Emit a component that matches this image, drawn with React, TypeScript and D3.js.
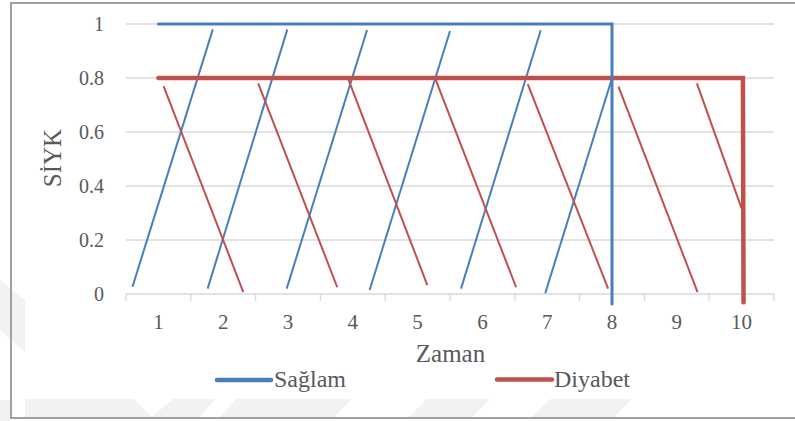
import React from "react";
import * as d3 from "d3";

// Time steps on the horizontal axis
const categories = [1, 2, 3, 4, 5, 6, 7, 8, 9, 10];
const yTicks = [0, 0.2, 0.4, 0.6, 0.8, 1];

// Main step series: level, then drop at the end of the period
const saglam: [number, number][] = [
  [1, 1],
  [8, 1],
  [8, -0.037],
];
const diyabet: [number, number][] = [
  [1, 0.8],
  [10.02, 0.8],
  [10.03, -0.031],
];

// Rising transition segments (Sağlam)
const saglamRises: [number, number][][] = [
  [[0.6, 0.027], [1.84, 0.98]],
  [[1.76, 0.02], [2.99, 0.98]],
  [[2.98, 0.02], [4.22, 0.978]],
  [[4.26, 0.015], [5.5, 0.974]],
  [[5.67, 0.02], [6.9, 0.977]],
  [[6.97, 0.003], [8.0, 0.799]],
];

// Falling transition segments (Diyabet)
const diyabetFalls: [number, number][][] = [
  [[1.08, 0.77], [2.31, 0.007]],
  [[2.54, 0.78], [3.76, 0.025]],
  [[3.93, 0.796], [5.15, 0.033]],
  [[5.28, 0.793], [6.52, 0.025]],
  [[6.7, 0.777], [7.94, 0.02]],
  [[8.1, 0.768], [9.32, 0.007]],
  [[9.31, 0.78], [10.0, 0.317]],
];

const seriesNames = ["Sağlam", "Diyabet"];
const BLUE = "#4A7EBB";
const RED = "#C0504D";
const TEXT = "#595959";
const GRID = "#D9D9D9";
const txt = { fontFamily: '"Liberation Serif"' };

const W = 795;
const H = 421;
const plot = { left: 126, right: 774, top: 24, bottom: 294 };

export default function App() {
  const x = d3.scaleLinear().domain([0.5, 10.5]).range([plot.left, plot.right]);
  const y = d3.scaleLinear().domain([0, 1]).range([plot.bottom, plot.top]);
  const line = d3
    .line<[number, number]>()
    .x((d) => x(d[0]))
    .y((d) => y(d[1]));

  const boundaries = d3.range(0.5, 10.51, 1);

  return (
    <svg
      width={W}
      height={H}
      viewBox={`0 0 ${W} ${H}`}
      style={{ position: "fixed", left: 0, top: 0, background: "#fff" }}
    >
      {/* faint background decoration */}
      <g fill="#F2F2F2">
        <polygon points="0,280 25,300 25,352 0,330" />
        <polygon points="0,400 10,400 10,421 0,421" />
        <polygon points="25,399 133,399 152,417 25,417" />
        <polygon points="173,399 215,399 200,417 152,417" />
        <polygon points="236,399 352,399 334,417 220,417" />
        <polygon points="427,399 490,399 472,417 409,417" />
        <polygon points="550,399 632,399 614,417 532,417" />
      </g>

      {/* chart area border */}
      <rect x={11} y={3} width={800} height={415} fill="none" stroke="#A0A0A0" strokeWidth={2} />

      {/* gridlines */}
      <g stroke={GRID} strokeWidth={1.3}>
        {yTicks.map((t) => (
          <line key={t} x1={plot.left} x2={plot.right} y1={y(t)} y2={y(t)} />
        ))}
        {boundaries.map((b) => (
          <line key={b} x1={x(b)} x2={x(b)} y1={plot.bottom} y2={plot.bottom + 7} />
        ))}
      </g>

      {/* y tick labels */}
      <g fill={TEXT} fontSize={20} textAnchor="end">
        {yTicks.map((t) => (
          <text key={t} x={104} y={y(t)} dy="0.35em" style={txt}>
            {String(t)}
          </text>
        ))}
      </g>

      {/* x tick labels */}
      <g fill={TEXT} fontSize={21} textAnchor="middle">
        {categories.map((c) => (
          <text key={c} x={x(c)} y={329} style={txt}>
            {c}
          </text>
        ))}
      </g>

      {/* axis titles */}
      <text x={450.5} y={362} fill={TEXT} fontSize={25} textAnchor="middle" style={txt}>
        Zaman
      </text>
      <text
        transform={`translate(61,158) rotate(-90)`}
        fill={TEXT}
        fontSize={25}
        textAnchor="middle"
        style={txt}
      >
        SİYK
      </text>

      {/* transition segments */}
      <g fill="none" strokeWidth={2}>
        {saglamRises.map((s, i) => (
          <path key={`b${i}`} d={line(s) ?? ""} stroke={BLUE} />
        ))}
        {diyabetFalls.map((s, i) => (
          <path key={`r${i}`} d={line(s) ?? ""} stroke={RED} />
        ))}
      </g>

      {/* main series */}
      <path d={line(diyabet) ?? ""} fill="none" stroke={RED} strokeWidth={4.5} strokeLinecap="round" />
      <path d={line(saglam) ?? ""} fill="none" stroke={BLUE} strokeWidth={3} strokeLinecap="round" />

      {/* legend */}
      <g fontSize={24} fill={TEXT}>
        <line x1={217} x2={271} y1={380} y2={380} stroke={BLUE} strokeWidth={4.5} strokeLinecap="round" />
        <text x={274} y={387} style={txt}>
          {seriesNames[0]}
        </text>
        <line x1={497} x2={552} y1={379.5} y2={379.5} stroke={RED} strokeWidth={4.5} strokeLinecap="round" />
        <text x={554} y={387} style={txt}>
          {seriesNames[1]}
        </text>
      </g>
    </svg>
  );
}
